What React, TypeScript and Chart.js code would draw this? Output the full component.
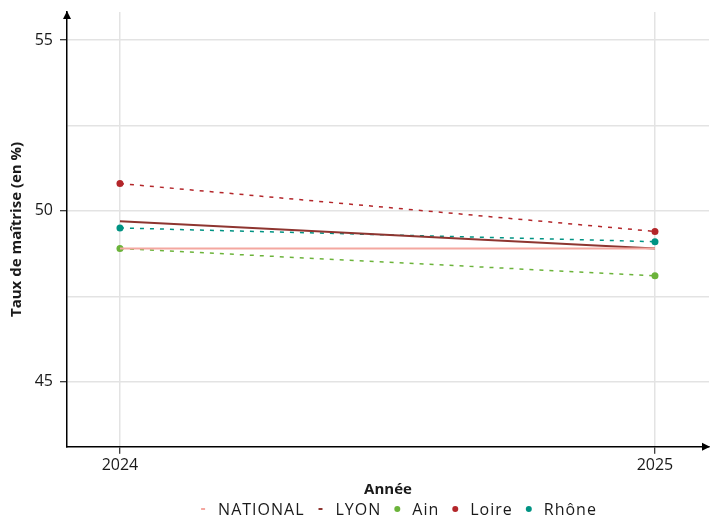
import React, { useEffect, useRef } from "react";
import { Chart, registerables } from "chart.js";

Chart.register(...registerables);

const years = [2024, 2025];
const national = [48.9, 48.9];
const lyon = [49.7, 48.9];
const ain = [48.9, 48.1];
const loire = [50.8, 49.4];
const rhone = [49.5, 49.1];
const yTicks = [45, 47.5, 50, 52.5, 55];
const yLabelled = [45, 50, 55];

const FONT = "'Open Sans', sans-serif";

const arrowPlugin = {
  id: "arrows",
  afterDraw(chart: any) {
    const { ctx, chartArea } = chart;
    ctx.save();
    ctx.fillStyle = "#000";
    ctx.beginPath();
    ctx.moveTo(chartArea.left, chartArea.top - 1);
    ctx.lineTo(chartArea.left - 4, chartArea.top + 7);
    ctx.lineTo(chartArea.left + 4, chartArea.top + 7);
    ctx.closePath();
    ctx.fill();
    ctx.beginPath();
    ctx.moveTo(chartArea.right + 1, chartArea.bottom);
    ctx.lineTo(chartArea.right - 7, chartArea.bottom - 4);
    ctx.lineTo(chartArea.right - 7, chartArea.bottom + 4);
    ctx.closePath();
    ctx.fill();
    ctx.restore();
  },
};

const legendPlugin = {
  id: "customLegend",
  afterDraw(chart: any) {
    const { ctx } = chart;
    const ds = chart.data.datasets;
    ctx.save();
    ctx.font = `16px ${FONT}`;
    (ctx as any).letterSpacing = "1px";
    ctx.textBaseline = "middle";
    ctx.textAlign = "left";
    const widths = ds.map((d: any) => ctx.measureText(d.label).width);
    const markerToText = 15;
    const textToMarker = 16;
    const total =
      widths.reduce((a: number, w: number) => a + w + markerToText, 0) +
      textToMarker * (ds.length - 1);
    let x = 400 - total / 2;
    const y = 509;
    ds.forEach((d: any, i: number) => {
      if (d.pointStyle === "line") {
        ctx.strokeStyle = d.borderColor;
        ctx.lineWidth = 2;
        ctx.beginPath();
        ctx.moveTo(x - 2, y);
        ctx.lineTo(x + 2, y);
        ctx.stroke();
      } else {
        ctx.fillStyle = d.backgroundColor;
        ctx.beginPath();
        ctx.arc(x, y, 3, 0, Math.PI * 2);
        ctx.fill();
      }
      ctx.fillStyle = "#1a1a1a";
      ctx.fillText(d.label, x + markerToText, y + 1);
      x += markerToText + widths[i] + textToMarker;
    });
    ctx.restore();
  },
};

export default function App() {
  const ref = useRef<HTMLCanvasElement>(null);
  useEffect(() => {
    document.body.style.margin = "0";
    const mk = (arr: number[]) => years.map((x, i) => ({ x, y: arr[i] }));
    const chart = new Chart(ref.current!, {
      type: "line",
      data: {
        datasets: [
          {
            label: "NATIONAL",
            data: mk(national),
            borderColor: "#F4A7A0",
            backgroundColor: "#F4A7A0",
            borderWidth: 2,
            pointRadius: 0,
            pointStyle: "line",
          },
          {
            label: "LYON",
            data: mk(lyon),
            borderColor: "#8E3530",
            backgroundColor: "#8E3530",
            borderWidth: 2,
            pointRadius: 0,
            pointStyle: "line",
          },
          {
            label: "Ain",
            data: mk(ain),
            borderColor: "#6BB33A",
            backgroundColor: "#6BB33A",
            borderWidth: 1.5,
            borderDash: [4, 6],
            pointRadius: 3.5,
            pointBorderWidth: 0,
            pointStyle: "circle",
          },
          {
            label: "Loire",
            data: mk(loire),
            borderColor: "#B3262A",
            backgroundColor: "#B3262A",
            borderWidth: 1.5,
            borderDash: [4, 6],
            pointRadius: 3.5,
            pointBorderWidth: 0,
            pointStyle: "circle",
          },
          {
            label: "Rhône",
            data: mk(rhone),
            borderColor: "#009383",
            backgroundColor: "#009383",
            borderWidth: 1.5,
            borderDash: [4, 6],
            pointRadius: 3.5,
            pointBorderWidth: 0,
            pointStyle: "circle",
          },
        ],
      },
      options: {
        responsive: false,
        animation: false,
        layout: { padding: { top: 12, right: 15, left: 0, bottom: 18 } },
        plugins: {
          tooltip: { enabled: false },
          legend: { display: false },
        },
        scales: {
          x: {
            type: "linear",
            min: 2023.901,
            max: 2025.101,
            afterBuildTicks: (s: any) => {
              s.ticks = years.map((v) => ({ value: v }));
            },
            afterFit: (s: any) => {
              s.paddingLeft = 0;
              s.paddingRight = 0;
            },
            ticks: {
              color: "#1a1a1a",
              font: { family: FONT, size: 16 },
              padding: 2,
              callback: (v: any) => String(v),
            },
            grid: {
              color: "#E3E3E3",
              lineWidth: 1.5,
              tickColor: "#000",
              tickLength: 7,
              tickWidth: 1,
            },
            border: { color: "#000", width: 1.5 },
            title: {
              display: true,
              text: "Année",
              color: "#1a1a1a",
              font: { family: FONT, size: 15, weight: "bold" },
              padding: { top: 4, bottom: 0 },
            },
          },
          y: {
            type: "linear",
            min: 43.099,
            max: 55.819,
            afterBuildTicks: (s: any) => {
              s.ticks = yTicks.map((v) => ({ value: v }));
            },
            afterFit: (s: any) => {
              s.width = 67;
              s.paddingTop = 0;
              s.paddingBottom = 0;
            },
            ticks: {
              color: "#1a1a1a",
              font: { family: FONT, size: 16 },
              padding: 7,
              callback: (v: any) => (yLabelled.includes(v) ? String(v) : ""),
            },
            grid: {
              color: "#E3E3E3",
              lineWidth: 1.5,
              tickColor: (c: any) =>
                c.tick && yLabelled.includes(c.tick.value) ? "#000" : "rgba(0,0,0,0)",
              tickLength: 7,
              tickWidth: 1,
            },
            border: { color: "#000", width: 1.5 },
            title: {
              display: true,
              text: "Taux de maîtrise (en %)",
              color: "#1a1a1a",
              font: { family: FONT, size: 15, weight: "bold" },
              padding: { top: 8, bottom: 0 },
            },
          },
        },
      },
      plugins: [arrowPlugin, legendPlugin],
    } as any);
    return () => chart.destroy();
  }, []);
  return (
    <div style={{ width: 724, height: 517 }}>
      <canvas ref={ref} width={724} height={517} />
    </div>
  );
}
